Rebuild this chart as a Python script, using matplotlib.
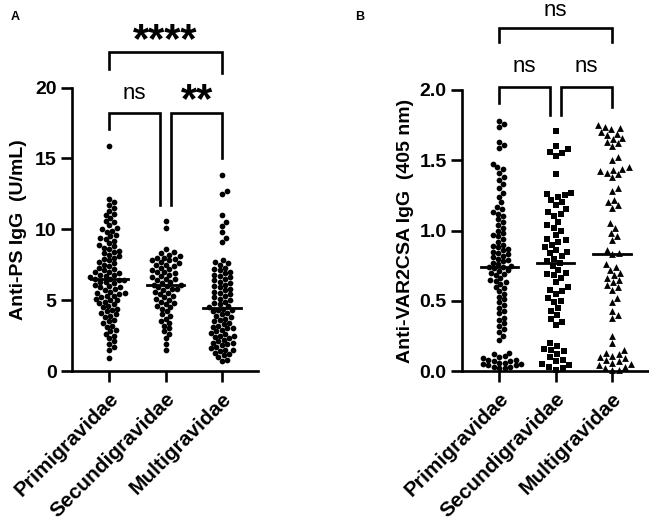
import matplotlib
matplotlib.use('Agg')
import matplotlib.pyplot as plt
import numpy as np

plt.rcParams['font.family'] = ['Liberation Sans', 'DejaVu Sans']

groups = ['Primigravidae', 'Secundigravidae', 'Multigravidae']

# Panel A: Anti-PS IgG (U/mL)
ps_primi = [15.9, 12.1, 11.9, 11.7, 11.5, 11.3, 11.1, 11.0, 10.8, 10.6, 10.5, 10.3,
            10.1, 10.0, 9.9, 9.8, 9.6, 9.5, 9.4, 9.3, 9.2, 9.0, 8.9, 8.8, 8.7, 8.6,
            8.5, 8.4, 8.3, 8.2, 8.1, 8.0, 7.9, 7.8, 7.7, 7.6, 7.5, 7.4, 7.3, 7.2, 7.1,
            7.0, 7.0, 6.9, 6.8, 6.8, 6.7, 6.6, 6.5, 6.5, 6.4, 6.4, 6.3, 6.3, 6.2, 6.1,
            6.0, 5.9, 5.9, 5.8, 5.7, 5.6, 5.5, 5.5, 5.4, 5.3, 5.3, 5.2, 5.1, 5.0, 5.0,
            4.9, 4.8, 4.7, 4.6, 4.5, 4.4, 4.3, 4.2, 4.1, 4.0, 3.9, 3.8, 3.6, 3.5, 3.4,
            3.2, 3.1, 2.9, 2.8, 2.6, 2.5, 2.3, 2.1, 1.9, 1.7, 1.5, 0.9]
ps_secundi = [10.6, 10.1, 8.6, 8.4, 8.3, 8.2, 8.1, 8.0, 8.0, 7.9, 7.8, 7.8, 7.7, 7.6,
              7.5, 7.5, 7.4, 7.3, 7.2, 7.1, 7.0, 7.0, 6.9, 6.8, 6.7, 6.6, 6.5, 6.5,
              6.4, 6.3, 6.2, 6.1, 6.1, 6.0, 5.9, 5.8, 5.8, 5.7, 5.6, 5.5, 5.4, 5.3,
              5.2, 5.1, 5.0, 4.9, 4.8, 4.7, 4.6, 4.5, 4.4, 4.2, 4.0, 3.9, 3.7, 3.5,
              3.4, 3.2, 3.0, 2.8, 2.6, 2.3, 1.9, 1.5]
ps_multi = [13.8, 12.7, 12.5, 11.0, 10.5, 10.2, 9.8, 9.4, 9.1, 7.8, 7.7, 7.6, 7.5,
            7.3, 7.2, 7.1, 7.0, 6.9, 6.8, 6.7, 6.6, 6.5, 6.4, 6.3, 6.2, 6.1, 6.0,
            5.9, 5.8, 5.7, 5.6, 5.5, 5.4, 5.3, 5.2, 5.1, 5.0, 4.9, 4.8, 4.7, 4.6,
            4.5, 4.4, 4.3, 4.3, 4.2, 4.1, 4.0, 3.9, 3.8, 3.7, 3.6, 3.5, 3.4, 3.3,
            3.2, 3.1, 3.0, 3.0, 2.9, 2.8, 2.7, 2.6, 2.5, 2.5, 2.4, 2.3, 2.2, 2.1,
            2.0, 2.0, 1.9, 1.8, 1.7, 1.6, 1.5, 1.5, 1.4, 1.3, 1.2, 1.1, 1.0, 0.8,
            0.7]

# Panel B: Anti-VAR2CSA IgG (405 nm)
var_primi = [1.78, 1.76, 1.74, 1.63, 1.61, 1.59, 1.47, 1.45, 1.44, 1.41, 1.38, 1.36,
             1.33, 1.30, 1.27, 1.24, 1.20, 1.17, 1.15, 1.13, 1.12, 1.10, 1.08, 1.06,
             1.04, 1.02, 1.00, 0.98, 0.97, 0.96, 0.94, 0.92, 0.90, 0.89, 0.88, 0.87,
             0.86, 0.85, 0.84, 0.83, 0.82, 0.81, 0.80, 0.79, 0.78, 0.77, 0.76, 0.75,
             0.74, 0.74, 0.73, 0.72, 0.71, 0.70, 0.69, 0.68, 0.66, 0.65, 0.64, 0.63,
             0.62, 0.60, 0.59, 0.57, 0.55, 0.53, 0.51, 0.49, 0.47, 0.45, 0.43, 0.41,
             0.38, 0.36, 0.34, 0.32, 0.30, 0.28, 0.25, 0.22, 0.13, 0.12, 0.11, 0.10,
             0.09, 0.08, 0.08, 0.07, 0.07, 0.06, 0.06, 0.05, 0.05, 0.04, 0.04, 0.03,
             0.03, 0.02, 0.02]
var_secundi = [1.71, 1.60, 1.58, 1.56, 1.55, 1.53, 1.40, 1.27, 1.26, 1.25, 1.24,
               1.22, 1.20, 1.18, 1.15, 1.13, 1.12, 1.10, 1.06, 1.04, 1.02, 1.00,
               0.97, 0.94, 0.93, 0.92, 0.90, 0.88, 0.86, 0.85, 0.84, 0.82, 0.80,
               0.78, 0.77, 0.75, 0.72, 0.70, 0.69, 0.68, 0.66, 0.63, 0.60, 0.58,
               0.57, 0.55, 0.52, 0.50, 0.49, 0.45, 0.43, 0.40, 0.37, 0.35, 0.33,
               0.20, 0.18, 0.16, 0.15, 0.14, 0.12, 0.10, 0.08, 0.07, 0.05, 0.04,
               0.03, 0.02, 0.01]
var_multi = [1.75, 1.74, 1.73, 1.72, 1.70, 1.69, 1.68, 1.66, 1.65, 1.63, 1.62, 1.60,
             1.52, 1.50, 1.45, 1.44, 1.43, 1.42, 1.41, 1.40, 1.38, 1.30, 1.28, 1.22,
             1.20, 1.18, 1.16, 1.05, 1.02, 0.98, 0.96, 0.93, 0.86, 0.84, 0.83, 0.76,
             0.74, 0.72, 0.70, 0.68, 0.66, 0.65, 0.63, 0.61, 0.60, 0.58, 0.52, 0.49,
             0.43, 0.40, 0.38, 0.25, 0.20, 0.15, 0.13, 0.12, 0.11, 0.10, 0.09, 0.08,
             0.07, 0.06, 0.05, 0.04, 0.03, 0.02, 0.01, 0.01]


def swarm(ax, vals, d):
    '''simple beeswarm: x offsets (data units) so markers of diameter d px do not overlap'''
    bb = ax.get_window_extent()
    x0, x1 = ax.get_xlim()
    y0, y1 = ax.get_ylim()
    sx = bb.width / (x1 - x0)
    sy = bb.height / (y1 - y0)
    ys = np.asarray(vals, dtype=float) * sy
    xs = np.zeros(len(ys))
    placed = []
    for i in np.argsort(ys):
        y = ys[i]
        near = [(px, py) for px, py in placed if abs(py - y) < d]
        cands = [0.0]
        for px, py in near:
            dx = np.sqrt(d * d - (py - y) ** 2)
            cands += [px + dx, px - dx]
        cands.sort(key=abs)
        for c in cands:
            if all((c - px) ** 2 + (y - py) ** 2 >= d * d - 1e-6 for px, py in near):
                xs[i] = c
                break
        placed.append((xs[i], y))
    return xs / sx


def bracket(ax, x0, x1, ytop, yl, yr):
    ax.plot([x0, x0, x1, x1], [yl, ytop, ytop, yr], color='black', lw=1.9,
            clip_on=False, solid_joinstyle='miter')


def style(ax, ylim, yticks, fmt):
    ax.set_xlim(-0.66, 2.64)
    ax.set_ylim(*ylim)
    ax.set_yticks(yticks)
    ax.set_yticklabels([fmt.format(t) for t in yticks], fontweight='bold', fontsize=14)
    ax.set_xticks([0, 1, 2])
    ax.set_xticklabels(groups, rotation=45, ha='right', rotation_mode='anchor',
                       fontweight='bold', fontsize=15)
    for s in ['top', 'right']:
        ax.spines[s].set_visible(False)
    for s in ['left', 'bottom']:
        ax.spines[s].set_linewidth(1.9)
    ax.tick_params(axis='y', length=8, width=1.9, pad=3)
    ax.tick_params(axis='x', length=8, width=1.9, pad=5)


fig = plt.figure(figsize=(6.49, 5.21), dpi=100)
axA = fig.add_axes([72 / 649, 150 / 521, 186 / 649, 283.5 / 521])
axB = fig.add_axes([462 / 649, 150 / 521, 186 / 649, 281 / 521])

style(axA, (0, 20), [0, 5, 10, 15, 20], '{:g}')
style(axB, (0, 2.0), [0.0, 0.5, 1.0, 1.5, 2.0], '{:.1f}')
axA.set_ylabel('Anti-PS IgG  (U/mL)', fontweight='bold', fontsize=14, labelpad=6)
axB.set_ylabel('Anti-VAR2CSA IgG  (405 nm)', fontweight='bold', fontsize=14, labelpad=4)

# panel A points
for i, vals in enumerate([ps_primi, ps_secundi, ps_multi]):
    off = swarm(axA, vals, 5.6)
    axA.scatter(i + off, vals, s=17, marker='o', color='black', lw=0, clip_on=False, zorder=3)
    m = np.median(vals)
    axA.plot([i - 0.33, i + 0.33], [m, m], color='black', lw=2, zorder=4)

# panel B points
markers = [('o', 17, 5.6), ('s', 15, 7.2), ('^', 24, 6.8)]
for i, vals in enumerate([var_primi, var_secundi, var_multi]):
    mk, sz, d = markers[i]
    off = swarm(axB, vals, d)
    axB.scatter(i + off, vals, s=sz, marker=mk, color='black', lw=0, clip_on=False, zorder=3)
    m = np.median(vals)
    axB.plot([i - 0.33, i + 0.33], [m, m], color='black', lw=2, zorder=4)

# significance brackets, panel A
bracket(axA, 0, 0.9, 18.2, 17.1, 11.7)
bracket(axA, 1.1, 2, 18.2, 11.7, 15.0)
bracket(axA, 0, 2, 22.5, 21.3, 21.0)
axA.text(0.45, 19.6, 'ns', ha='center', va='center', fontsize=16)
axA.text(1.55, 19.05, '**', ha='center', va='center', fontsize=30, fontweight='bold')
axA.text(1.0, 23.3, '****', ha='center', va='center', fontsize=30, fontweight='bold')

# significance brackets, panel B
bracket(axB, 0, 0.91, 2.02, 1.91, 1.82)
bracket(axB, 1.09, 2, 2.02, 1.82, 1.88)
bracket(axB, 0, 2, 2.44, 2.34, 2.34)
axB.text(0.45, 2.17, 'ns', ha='center', va='center', fontsize=16)
axB.text(1.55, 2.17, 'ns', ha='center', va='center', fontsize=16)
axB.text(1.0, 2.565, 'ns', ha='center', va='center', fontsize=16)

fig.text(15 / 649, 1 - 17 / 521, 'A', fontweight='bold', fontsize=9, ha='center', va='center')
fig.text(360 / 649, 1 - 17 / 521, 'B', fontweight='bold', fontsize=9, ha='center', va='center')

fig.savefig('out.png', dpi=100)
